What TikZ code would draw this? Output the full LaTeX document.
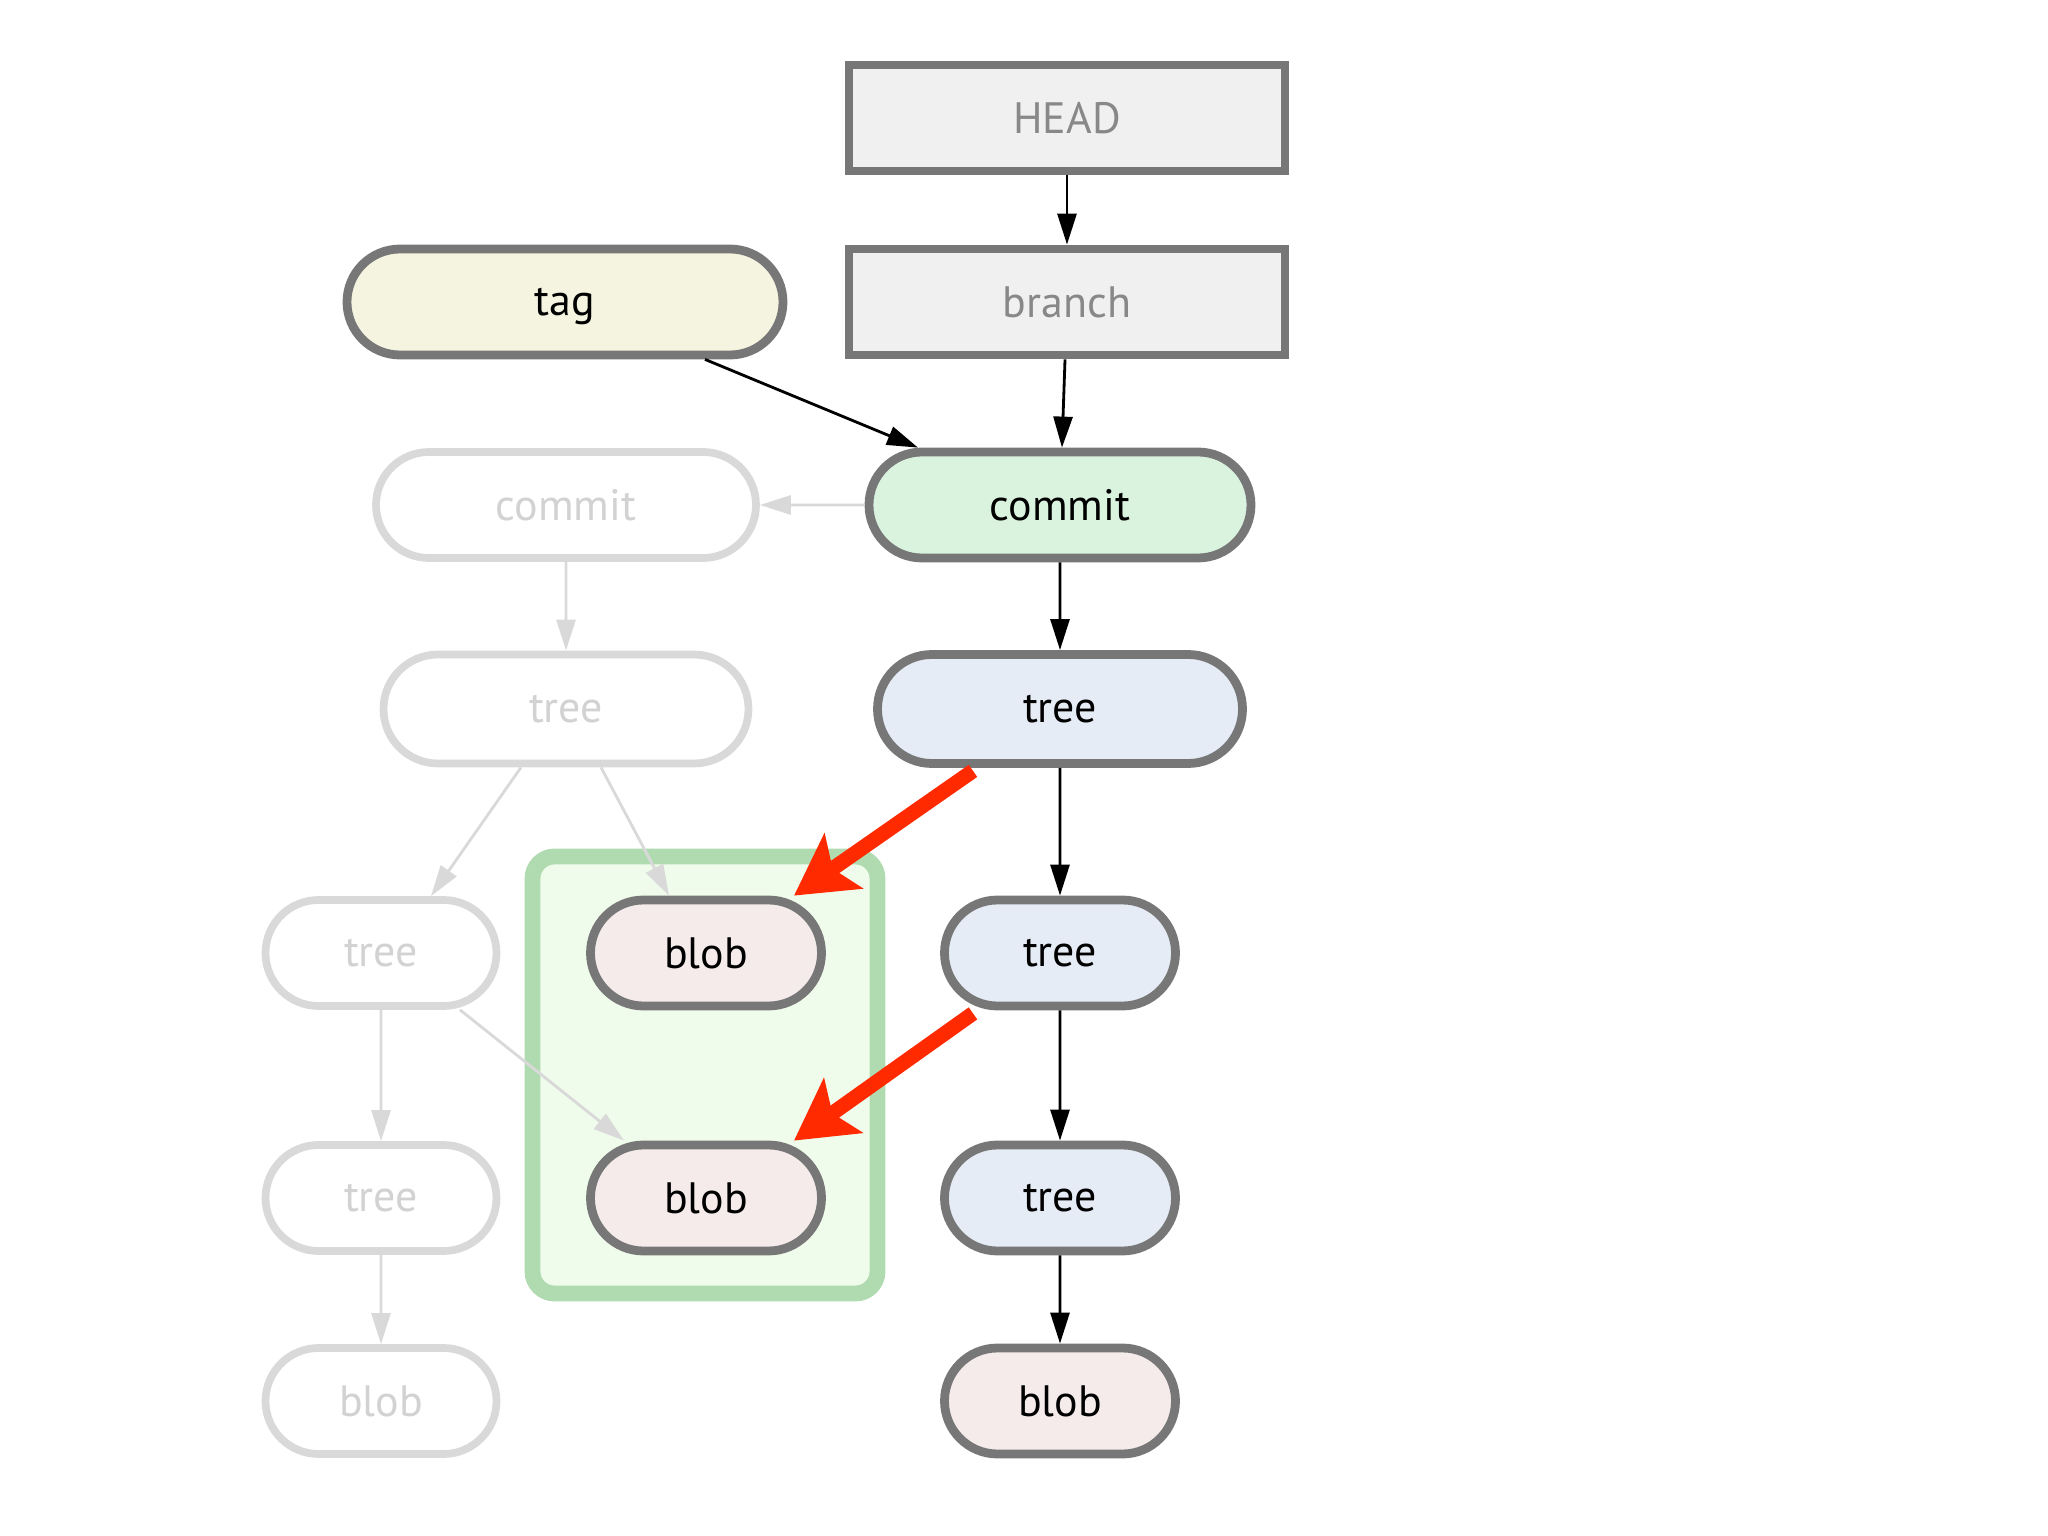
\documentclass[tikz,border=0pt]{standalone}
\usepackage{fontspec}
\setmainfont{PT Sans}
\usepackage{xcolor}
\usetikzlibrary{shapes.misc, arrows.meta, positioning}

\definecolor{objline}{HTML}{777777}
\definecolor{ghostline}{HTML}{D9D9D9}
\definecolor{ghosttext}{HTML}{D2D2D2}
\definecolor{reffill}{HTML}{F0F0F0}
\definecolor{reftext}{HTML}{888888}
\definecolor{tagfill}{HTML}{F5F4E0}
\definecolor{commitfill}{HTML}{DAF3DE}
\definecolor{treefill}{HTML}{E6ECF6}
\definecolor{blobfill}{HTML}{F5EBEB}
\definecolor{boxline}{HTML}{B0DBB0}
\definecolor{boxfill}{HTML}{F0FCEB}
\definecolor{hilite}{HTML}{FF2A00}

\begin{document}
\begin{tikzpicture}
			\tikzset{obj/.style={draw=objline, line width=2.5pt, rounded rectangle, inner sep=0pt, text depth=0pt, minimum height=1.06cm, font=\fontsize{12.5}{14}\selectfont}}
			\tikzset{refbox/.style={obj, rectangle, fill=reffill, text=reftext, minimum width=4.36cm, minimum height=1.06cm}}
			\tikzset{ghost/.style={obj, draw=ghostline, line width=2.2pt, fill=white, text=ghosttext}}
			\tikzset{arrow/.style={-{Triangle[length=0.31cm, width=0.19cm]}, line width=0.8pt}}
			\tikzset{ghostarrow/.style={arrow, draw=ghostline, fill=ghostline}}
			\tikzset{change/.style={-{Stealth[length=0.6cm, width=0.66cm, inset=0.13cm]}, line width=4.2pt, hilite}}

			\useasboundingbox (0,0) rectangle (20.48,-15.36);

			% changed files
			\node (changed) [draw=boxline, fill=boxfill, line width=4.5pt, rounded corners=0.22cm, minimum width=3.45cm, minimum height=4.37cm] at (7.05,-10.75) {};

			\node (head) [refbox] at (10.67,-1.18) {HEAD};
			\node (branch) [refbox] at (10.67,-3.02) {branch};
			\node (tag) [obj, fill=tagfill, minimum width=4.36cm] at (5.65,-3.02) {tag};

			\node (commit) [obj, fill=commitfill, minimum width=3.82cm] at (10.60,-5.05) {commit};
			\node (tree1) [obj, fill=treefill, minimum width=3.65cm, minimum height=1.09cm] at (10.60,-7.09) {tree};
			\node (tree2) [obj, fill=treefill, minimum width=2.31cm] at (10.60,-9.53) {tree};
			\node (tree3) [obj, fill=treefill, minimum width=2.31cm] at (10.60,-11.98) {tree};
			\node (blob3) [obj, fill=blobfill, minimum width=2.31cm] at (10.60,-14.01) {blob};

			\node (blob1) [obj, fill=blobfill, minimum width=2.31cm] at (7.06,-9.53) {blob};
			\node (blob2) [obj, fill=blobfill, minimum width=2.31cm] at (7.06,-11.98) {blob};

			\node (oldcommit) [ghost, minimum width=3.80cm] at (5.66,-5.05) {commit};
			\node (oldtree1) [ghost, minimum width=3.65cm, minimum height=1.09cm] at (5.66,-7.09) {tree};
			\node (oldtree2) [ghost, minimum width=2.31cm] at (3.81,-9.53) {tree};
			\node (oldtree3) [ghost, minimum width=2.31cm] at (3.81,-11.98) {tree};
			\node (oldblob) [ghost, minimum width=2.31cm] at (3.81,-14.01) {blob};

			\draw[arrow] (head) -- (branch);
			\draw[arrow] (branch) -- (commit);
			\draw[arrow] ([xshift=1.4cm]tag.south) -- ([xshift=-1.42cm]commit.north);
			\draw[arrow] (commit) -- (tree1);
			\draw[arrow] (tree1) -- (tree2);
			\draw[arrow] (tree2) -- (tree3);
			\draw[arrow] (tree3) -- (blob3);

			\draw[ghostarrow] (commit) -- (oldcommit);
			\draw[ghostarrow] (oldcommit) -- (oldtree1);
			\draw[ghostarrow] ([xshift=-0.45cm]oldtree1.south) -- ([xshift=0.5cm]oldtree2.north);
			\draw[ghostarrow] ([xshift=0.35cm]oldtree1.south) -- ([xshift=-0.37cm]blob1.north);
			\draw[ghostarrow] (oldtree2) -- (oldtree3);
			\draw[ghostarrow] ([xshift=0.79cm]oldtree2.south) -- ([xshift=-0.82cm]blob2.north);
			\draw[ghostarrow] (oldtree3) -- (oldblob);

			\draw[change] ([xshift=-0.87cm, yshift=-0.03cm]tree1.south) -- ([xshift=0.88cm]blob1.north);
			\draw[change] ([xshift=-0.87cm, yshift=-0.03cm]tree2.south) -- ([xshift=0.88cm]blob2.north);
\end{tikzpicture}
\end{document}
